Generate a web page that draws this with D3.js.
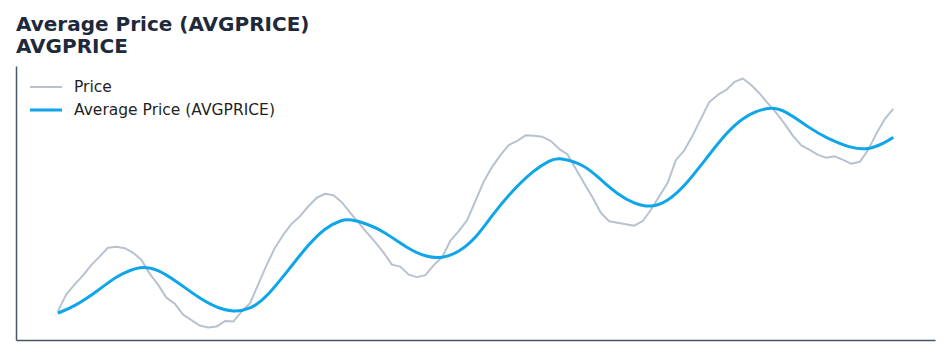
<!DOCTYPE html>
<html>
<head>
<meta charset="utf-8">
<script src="https://cdn.jsdelivr.net/npm/d3@7"></script>
<style>
  body { margin: 0; background: #fff; }
  svg { display: block; font-family: "DejaVu Sans", sans-serif; }
</style>
</head>
<body>
<div id="chart"></div>
<script>
// chart text
var titleLines = ["Average Price (AVGPRICE)", "AVGPRICE"];
var seriesNames = ["Price", "Average Price (AVGPRICE)"];

// price, one value per period (0..100)
var price = [
  105.8, 109.2, 111.2, 113.0, 115.1, 116.8, 118.6, 118.8, 118.5, 117.6,
  116.2, 113.4, 111.2, 108.6, 107.4, 105.2, 104.1, 103.0, 102.6, 102.8,
  103.9, 103.8, 105.8, 107.4, 111.3, 115.1, 118.6, 121.2, 123.4, 124.9,
  126.9, 128.6, 129.4, 129.1, 127.7, 125.6, 123.6, 121.6, 119.7, 117.6,
  115.2, 114.8, 113.2, 112.7, 113.1, 115.1, 116.7, 120.0, 121.9, 124.1,
  128.0, 131.9, 134.8, 137.2, 139.2, 140.0, 141.1, 141.0, 140.8, 140.0,
  138.4, 137.3, 134.4, 131.5, 128.7, 125.6, 123.9, 123.6, 123.3, 123.0,
  123.9, 126.2, 128.9, 131.6, 136.2, 138.1, 141.1, 144.5, 147.8, 149.2,
  150.2, 151.8, 152.5, 151.2, 149.5, 147.5, 145.6, 143.4, 141.0, 139.1,
  138.2, 137.2, 136.6, 136.9, 136.2, 135.4, 135.8, 138.2, 141.5, 144.4,
  146.4
];

// average price, read at these periods
var avgPeriods = [
  0, 2, 5, 7, 10, 12, 14, 17, 19, 21, 23, 25, 28, 30, 32, 34,
  35, 37, 39, 42, 44, 46, 48, 50, 52, 54, 57, 59, 60, 63, 65, 67,
  69, 71, 73, 75, 78, 80, 82, 85, 87, 90, 92, 95, 97, 99, 100
];
var avgPrice = [
  105.5, 106.8, 110.2, 112.9, 115.1, 114.2, 112.1, 108.4, 106.6, 105.7, 106.2, 108.6, 115.0, 119.2, 122.6, 124.2,
  124.3, 123.4, 121.9, 118.3, 116.8, 116.4, 117.7, 120.4, 125.1, 129.3, 134.2, 136.2, 136.7, 135.3, 132.2, 129.3,
  127.4, 126.6, 127.9, 130.8, 137.3, 141.5, 144.8, 146.9, 146.2, 142.5, 140.6, 138.5, 138.2, 139.6, 140.7
];

var width = 951, height = 356;
var margin = {top: 66, right: 16, bottom: 16, left: 16};
var w = width - margin.left - margin.right,
    h = height - margin.top - margin.bottom;

var svg = d3.select("#chart").append("svg")
    .attr("width", width)
    .attr("height", height);

// title
svg.append("g").selectAll("text")
  .data(titleLines)
  .join("text")
    .attr("x", 16)
    .attr("y", function(d, i) { return 31 + i * 22; })
    .attr("fill", "#1e293b")
    .attr("font-size", 20)
    .attr("font-weight", "bold")
    .text(function(d) { return d; });

var g = svg.append("g")
    .attr("transform", "translate(" + margin.left + "," + margin.top + ")");

var lo = d3.min(price.concat(avgPrice)), hi = d3.max(price.concat(avgPrice));
var pad = (hi - lo) * 0.05;

var x = d3.scaleLinear().domain([-5, price.length + 4]).range([0, w]);
var y = d3.scaleLinear().domain([lo - pad, hi + pad]).range([h, 0]);

// axes, lines only
g.append("g")
    .attr("transform", "translate(0," + h + ")")
    .call(d3.axisBottom(x).ticks(0).tickSizeOuter(0))
    .call(function(a) { a.select(".domain").attr("stroke", "#475569").attr("stroke-width", 1.5); });
g.append("g")
    .call(d3.axisLeft(y).ticks(0).tickSizeOuter(0))
    .call(function(a) { a.select(".domain").attr("stroke", "#475569").attr("stroke-width", 1.5); });

// price line
g.append("path")
    .datum(price)
    .attr("fill", "none")
    .attr("stroke", "#b8c2cf")
    .attr("stroke-width", 2)
    .attr("stroke-linejoin", "round")
    .attr("d", d3.line()
      .x(function(d, i) { return x(i); })
      .y(function(d) { return y(d); }));

// average line
g.append("path")
    .datum(avgPrice)
    .attr("fill", "none")
    .attr("stroke", "#0ea5e9")
    .attr("stroke-width", 3)
    .attr("d", d3.line()
      .curve(d3.curveBasis)
      .x(function(d, i) { return x(avgPeriods[i]); })
      .y(function(d) { return y(d); }));

// legend
var legend = svg.append("g").attr("transform", "translate(30,87)");
var colors = ["#b8c2cf", "#0ea5e9"];
var item = legend.selectAll("g")
  .data(seriesNames)
  .join("g")
    .attr("transform", function(d, i) { return "translate(0," + i * 23 + ")"; });
item.append("line")
    .attr("x1", 0).attr("x2", 32)
    .attr("stroke", function(d, i) { return colors[i]; })
    .attr("stroke-width", function(d, i) { return i ? 3 : 2; });
item.append("text")
    .attr("x", 44)
    .attr("dy", "0.35em")
    .attr("font-size", 15.5)
    .attr("fill", "#1f1f1f")
    .text(function(d) { return d; });
</script>
</body>
</html>
